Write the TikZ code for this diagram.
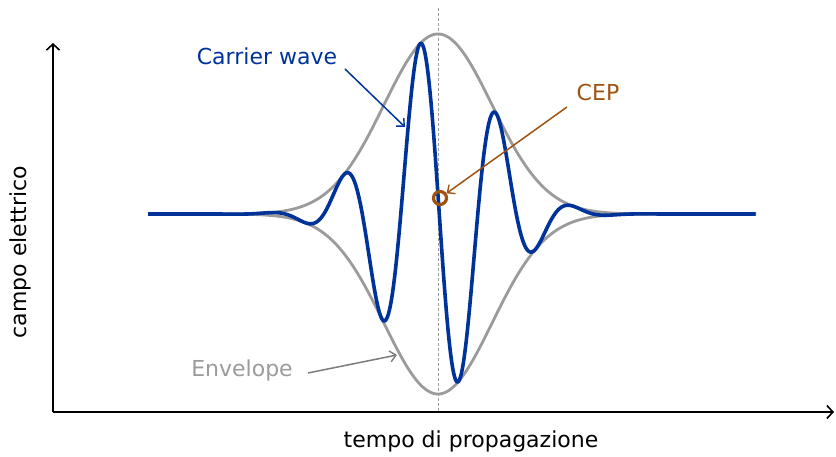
\documentclass[tikz,border=0pt]{standalone}
\usepackage{fontspec}
\setmainfont{DejaVu Sans}
\usetikzlibrary{positioning,arrows.meta}

\definecolor{onda}{RGB}{0,51,153}
\definecolor{inviluppo}{RGB}{155,155,155}
\definecolor{fase}{RGB}{160,82,16}

\begin{document}
\begin{tikzpicture}[x=1pt, y=1pt, font=\fontsize{22}{26}\selectfont,
    asse/.style={line width=1.9pt, -{Straight Barb[length=6pt,width=13pt,line width=1.6pt]}},
    freccia/.style={line width=1.5pt, -{Straight Barb[length=6pt,width=11pt,line width=1.4pt]}}]

\useasboundingbox (0,0) rectangle (836,457);

%assi
\coordinate (o) at (53,45);
\coordinate (ytop) at (53,414);
\coordinate (xend) at (834,45);
\draw[asse] (o) -- (ytop);
\draw[asse] (o) -- (xend);

\node (ylab) [rotate=90] at (20,205) {campo elettrico};
\node (xlab) at (471,16) {tempo di propagazione};

%linea tratteggiata al centro dell'impulso
\coordinate (ctop) at (438,449);
\coordinate (cbot) at (438,45);
\draw[inviluppo, dash pattern=on 3pt off 2pt, line width=0.9pt] (ctop) -- (cbot);

%inviluppo
\draw[inviluppo, line width=2.8pt] plot[domain=-5.37:5.89, samples=300]
    ({438+54*\x}, {243+180*exp(-\x*\x/2)});
\draw[inviluppo, line width=2.8pt] plot[domain=-5.37:5.89, samples=300]
    ({438+54*\x}, {243-180*exp(-\x*\x/2)});

%onda portante
\draw[onda, line width=3.6pt, line join=round] plot[domain=-5.37:5.89, samples=600]
    ({438+54*\x}, {243+180*exp(-\x*\x/2)*cos(252.5*\x+84)});

%punto CEP
\node (cep) [circle, draw=fase, line width=3.2pt, minimum size=13pt, inner sep=0pt] at (440,259) {};

%etichette
\node (cw) [text=onda] at (267,401) {Carrier wave};
\node (cepl) [text=fase] at (598,365) {CEP};
\node (env) [text=inviluppo] at (242,87) {Envelope};

\coordinate (cwa) at (345,388);
\coordinate (cwb) at (405,330);
\coordinate (cepa) at (567,350);
\coordinate (envs) at (308,84);
\coordinate (envt) at (397,102);

%frecce
\draw[freccia, onda] (cwa) -- (cwb);
\draw[freccia, fase] (cepa) -- (cep);
\draw[freccia, inviluppo!80!black] (envs) -- (envt);

\end{tikzpicture}
\end{document}
